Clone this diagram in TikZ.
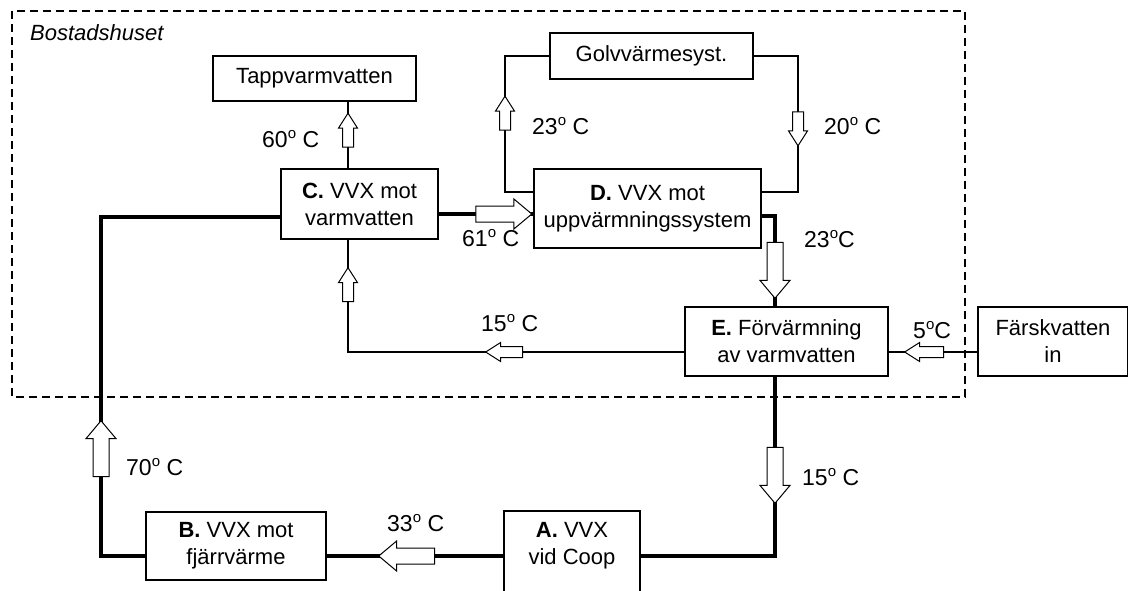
\documentclass[tikz,border=0pt]{standalone}
\usepackage{fontspec}
\setmainfont{Liberation Sans}
\usetikzlibrary{shapes.arrows}
\newcommand{\dg}{\raisebox{9pt}{\fontsize{15}{15}\selectfont o}}
\begin{document}
\begin{tikzpicture}[x=1pt,y=-1pt,
  box/.style={draw, line width=1.6pt, inner sep=0pt, align=center, font=\fontsize{22}{27}\selectfont},
  boxline/.style={line width=1.6pt},
  thinline/.style={line width=1.2pt},
  thickline/.style={line width=4pt},
  lbl/.style={anchor=base west, inner sep=0pt, font=\fontsize{23}{27}\selectfont},
  barr/.style={single arrow, draw, fill=white, line width=1pt, inner xsep=0pt, inner ysep=7.5pt,
    minimum height=56pt, single arrow head extend=7pt,
    single arrow tip angle=80, single arrow head indent=0pt},
  sarr/.style={single arrow, draw, fill=white, line width=1pt, inner xsep=0pt, inner ysep=5pt,
    minimum height=34pt, single arrow head extend=4pt,
    single arrow tip angle=65, single arrow head indent=0pt},
]
\useasboundingbox (0,0) rectangle (1128,590);
\clip (0,0) rectangle (1128,590);

% house boundary
\draw[line width=1.8pt, dash pattern=on 8pt off 5pt] (12,11) rectangle (965,397);
\node[anchor=west, inner sep=0pt, font=\fontsize{22}{27}\selectfont\itshape] (house) at (30,33) {Bostadshuset};

% boxes
\node[box, minimum width=203pt, minimum height=45pt] (tapp) at (314.5,78.5) {Tappvarmvatten};
\node[box, minimum width=157pt, minimum height=70pt] (C) at (359.5,204) {\textbf{C.} VVX mot\\varmvatten};
\node[box, minimum width=227pt, minimum height=79pt] (D) at (647.5,208.5) {\textbf{D.} VVX mot\\uppvärmningssystem};
\node[box, minimum width=203pt, minimum height=46pt] (golv) at (651.5,56) {Golvvärmesyst.};
\node[box, minimum width=203pt, minimum height=69pt] (E) at (786.5,341.5) {\textbf{E.} Förvärmning\\av varmvatten};
\node[box, minimum width=150pt, minimum height=69pt] (F) at (1053,341.5) {Färskvatten\\in};
\node[box, minimum width=180pt, minimum height=68pt] (B) at (236,546) {\textbf{B.} VVX mot\\fjärrvärme};
\node[box, draw=none, minimum width=134pt, minimum height=68pt] (A) at (572,546) {\textbf{A.} VVX\\vid Coop};
\draw[boxline] ([yshift=-40pt]A.south west) -- (A.north west) -- (A.north east) -- ([yshift=-40pt]A.south east);

% coordinates
\coordinate (p1) at (101,556);
\coordinate (p2) at (101,217);
\coordinate (p3) at (775,556);
\coordinate (p4) at (775,216);
\coordinate (p5) at (450,214);
\coordinate (c1) at (348,0);
\coordinate (c2) at (348,352);
\coordinate (l1) at (505,192);
\coordinate (l2) at (505,56);
\coordinate (r1) at (798,56);
\coordinate (r2) at (798,192);

% thick circuit
\draw[thickline] ([yshift=-10pt]B.west) -- (p1) -- (p2) -- (C.west |- p2);
\draw[thickline] ([yshift=-10pt]B.east) -- ([yshift=-10pt]A.west);
\draw[thickline] ([yshift=-10pt]A.east) -- (p3) -- (E.south -| p3);
\draw[thickline] (E.north -| p4) -- (p4) -- (D.east |- p4);
\draw[thickline] (C.east |- p5) -- (D.west |- p5);

% thin circuits
\draw[thinline] (C.north -| c1) -- (tapp.south -| c1);
\draw[thinline] (C.south -| c2) -- (c2) -- (E.west |- c2);
\draw[thinline] (F.west |- c2) -- (E.east |- c2);
\draw[thinline] (D.west |- l1) -- (l1) -- (l2) -- (golv.west);
\draw[thinline] (golv.east) -- (r1) -- (r2) -- (D.east |- r2);

% flow arrows
\node[sarr, rotate=90] (a60) at (348,134.5) {};
\node[sarr, rotate=90] (aL) at (505,117.5) {};
\node[sarr, rotate=-90] (aR) at (798,124.5) {};
\node[sarr, rotate=90] (aC) at (348,289) {};
\node[sarr, rotate=180, minimum height=37pt] (a15) at (508.5,352) {};
\node[sarr, rotate=180, minimum height=39pt] (a5) at (928.5,352) {};
\node[barr] (aCD) at (499,214) {};
\node[barr, rotate=-90] (a23) at (775,265.5) {};
\node[barr, rotate=-90] (a15b) at (775,470.5) {};
\node[barr, rotate=90] (a70) at (101,453.5) {};
\node[barr, rotate=180] (a33) at (411.5,556) {};

% labels
\node[lbl] (t60) at (262,147) {60\dg\ C};
\node[lbl] (t61) at (462,246) {61\dg\ C};
\node[lbl] (t23a) at (532,134) {23\dg\ C};
\node[lbl] (t20) at (824,134) {20\dg\ C};
\node[lbl] (t23b) at (804,247) {23\dg C};
\node[lbl] (t15a) at (481,331) {15\dg\ C};
\node[lbl] (t5) at (913,338) {5\dg C};
\node[lbl] (t15b) at (802,485) {15\dg\ C};
\node[lbl] (t70) at (126,475) {70\dg\ C};
\node[lbl] (t33) at (387,531) {33\dg\ C};
\end{tikzpicture}
\end{document}
